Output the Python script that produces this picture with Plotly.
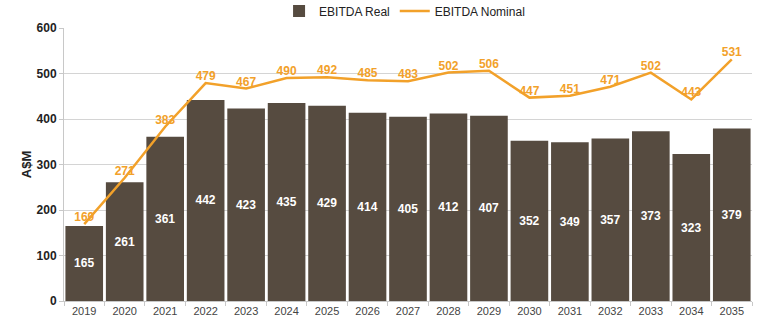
import plotly.graph_objects as go

years = ["2019", "2020", "2021", "2022", "2023", "2024", "2025", "2026", "2027",
         "2028", "2029", "2030", "2031", "2032", "2033", "2034", "2035"]
ebitda_real = [165, 261, 361, 442, 423, 435, 429, 414, 405, 412, 407, 352, 349, 357, 373, 323, 379]
ebitda_nominal = [169, 271, 383, 479, 467, 490, 492, 485, 483, 502, 506, 447, 451, 471, 502, 443, 531]
y_ticks = [0, 100, 200, 300, 400, 500, 600]

BAR = "#564b40"
LINE = "#f2a12a"
FONT = "Liberation Sans, Arial, sans-serif"

fig = go.Figure()
fig.add_trace(go.Bar(
    x=years, y=ebitda_real, name="EBITDA Real",
    marker=dict(color=BAR, line=dict(width=0)),
    text=[str(v) for v in ebitda_real],
    textposition="inside", insidetextanchor="middle",
    textfont=dict(color="white", size=12, family=FONT, weight="bold"),
    textangle=0,
))
fig.add_trace(go.Scatter(
    x=years, y=ebitda_nominal, name="EBITDA Nominal",
    mode="lines+text",
    line=dict(color=LINE, width=2.5),
    text=[str(v) for v in ebitda_nominal],
    textposition="top center",
    textfont=dict(color=LINE, size=12, family=FONT, weight="bold"),
))

fig.update_layout(
    width=768, height=327,
    margin=dict(l=64, r=16, t=28, b=26, autoexpand=False),
    paper_bgcolor="white", plot_bgcolor="white",
    bargap=0.07,
    font=dict(family=FONT, color="#222"),
    showlegend=True,
    legend=dict(orientation="h", x=0.495, xanchor="center",
                yref="container", y=1 - 11 / 327, yanchor="middle",
                font=dict(size=12, color="#222"), bgcolor="rgba(0,0,0,0)",
                itemwidth=30, tracegroupgap=0),
)
fig.update_xaxes(
    type="category", range=[-0.5, len(years) - 0.5],
    showgrid=False, automargin=False,
    showline=True, linecolor="#c8c8c8", linewidth=1,
    ticks="outside", tickson="boundaries", ticklen=4, tickcolor="#c8c8c8",
    tickfont=dict(size=11, color="#444"),
)
fig.update_yaxes(
    range=[0, 600], tickvals=y_ticks, automargin=False,
    showgrid=True, gridcolor="#d4d4d4", gridwidth=1,
    showline=True, linecolor="#c8c8c8", linewidth=1,
    ticks="outside", ticklen=4, tickcolor="#c8c8c8",
    tickfont=dict(size=12, color="#222", weight="bold"),
    title=dict(text="A$M", font=dict(size=13, color="#222", weight="bold"), standoff=2),
    zeroline=False,
)
fig.add_annotation(
    text="Fiscal Year Ended", xref="paper", yref="paper",
    x=0.47, y=-0.1, xanchor="center", yanchor="top", showarrow=False,
    yshift=-14,
    font=dict(size=12, color="#222", weight="bold"),
)

fig.write_html("out.html")
